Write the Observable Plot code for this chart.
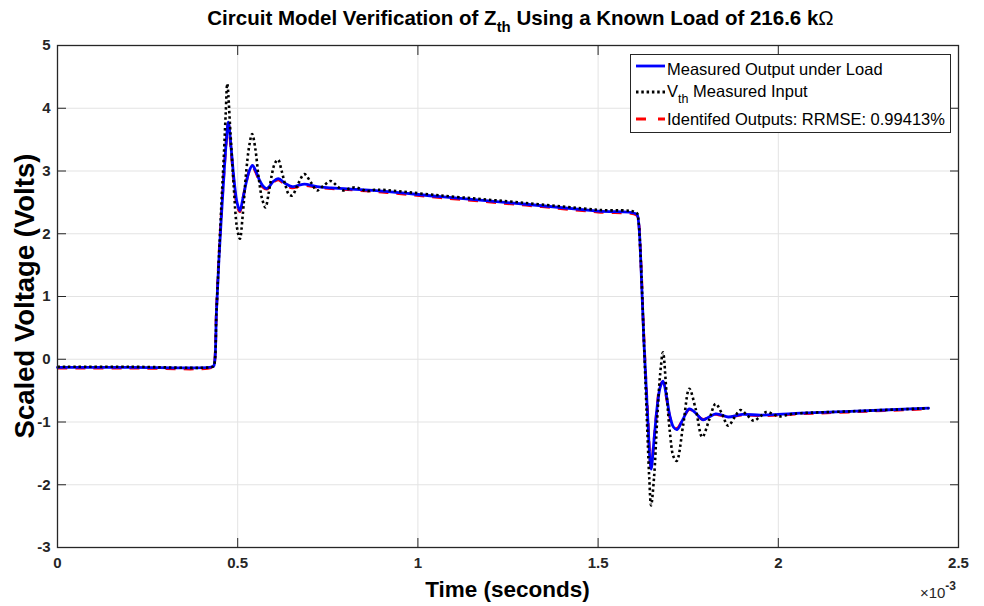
<!DOCTYPE html>
<html><head><meta charset="utf-8">
<script src="https://cdn.jsdelivr.net/npm/d3@7"></script>
<script src="https://cdn.jsdelivr.net/npm/@observablehq/plot@0.6"></script>
<style>body{margin:0;background:#fff;} svg{display:block;}</style>
</head><body><div id="chart"></div>
<script>
// Time in units of 1e-3 s (axis shows ×10^-3)
const tOut = [0,0.2,0.43,0.434,0.441,0.448,0.455,0.462,0.468,0.474,0.482,0.490,0.498,0.506,0.514,0.523,0.532,0.541,0.550,0.560,0.570,0.580,0.589,0.598,0.613,0.632,0.651,0.668,0.685,0.72,0.76,0.9,1.063,1.3,1.5,1.607,1.612,1.618,1.627,1.637,1.647,1.655,1.664,1.672,1.680,1.690,1.699,1.709,1.719,1.736,1.753,1.771,1.791,1.808,1.826,1.843,1.861,1.9,1.95,2.0,2.062,2.2,2.417];
const vOut = [-0.13,-0.13,-0.12,-0.10,0.75,1.6,2.3,2.95,3.45,3.78,3.35,2.85,2.5,2.37,2.55,2.80,3.0,3.09,3.0,2.86,2.76,2.72,2.76,2.83,2.88,2.80,2.75,2.77,2.79,2.75,2.73,2.68,2.59,2.47,2.36,2.31,2.2,1.63,0.30,-0.85,-1.75,-1.30,-0.75,-0.45,-0.35,-0.60,-0.90,-1.08,-1.12,-0.95,-0.79,-0.86,-0.965,-0.92,-0.87,-0.89,-0.92,-0.88,-0.89,-0.88,-0.86,-0.83,-0.78];

const tVth = [0,0.2,0.43,0.434,0.441,0.448,0.455,0.462,0.467,0.471,0.480,0.489,0.498,0.506,0.514,0.523,0.532,0.540,0.549,0.558,0.568,0.577,0.586,0.595,0.603,0.612,0.622,0.632,0.642,0.651,0.668,0.685,0.703,0.720,0.739,0.758,0.776,0.794,0.810,0.827,0.843,0.859,0.880,0.901,1.063,1.3,1.5,1.607,1.612,1.618,1.627,1.637,1.642,1.647,1.655,1.664,1.672,1.680,1.690,1.699,1.709,1.718,1.736,1.753,1.771,1.789,1.808,1.826,1.843,1.861,1.878,1.895,1.913,1.932,1.95,1.967,1.984,2.001,2.03,2.062,2.2,2.417];
const vVth = [-0.12,-0.12,-0.12,-0.10,0.75,1.63,2.5,3.3,3.95,4.39,3.6,2.75,2.1,1.92,2.3,2.95,3.4,3.59,3.35,2.9,2.55,2.42,2.65,2.95,3.12,3.18,3.0,2.78,2.63,2.61,2.8,2.95,2.82,2.69,2.77,2.84,2.76,2.69,2.72,2.74,2.71,2.68,2.70,2.70,2.61,2.49,2.38,2.33,2.2,1.63,0.30,-1.2,-1.9,-2.33,-1.9,-0.95,-0.25,0.11,-0.55,-1.15,-1.55,-1.62,-1.05,-0.47,-0.80,-1.24,-0.97,-0.71,-0.86,-1.06,-0.93,-0.81,-0.89,-0.98,-0.91,-0.84,-0.87,-0.91,-0.88,-0.86,-0.83,-0.78];

const tId = tOut;
const vId = [-0.14,-0.14,-0.13,-0.10,0.78,1.65,2.35,2.98,3.45,3.76,3.3,2.8,2.45,2.35,2.55,2.80,3.0,3.07,2.98,2.84,2.74,2.71,2.75,2.82,2.86,2.78,2.73,2.75,2.77,2.74,2.72,2.665,2.575,2.455,2.345,2.295,2.2,1.65,0.35,-0.8,-1.72,-1.3,-0.75,-0.42,-0.36,-0.62,-0.92,-1.08,-1.10,-0.95,-0.80,-0.87,-0.96,-0.92,-0.88,-0.90,-0.92,-0.89,-0.90,-0.89,-0.87,-0.84,-0.79];

const xTicks = [0, 0.5, 1, 1.5, 2, 2.5];
const yTicks = [-3, -2, -1, 0, 1, 2, 3, 4, 5];
const seriesNames = ["Measured Output under Load", "Measured Input", "Identifed Outputs: RRMSE: 0.99413%"];
const seriesColors = ["#0000ff", "#000000", "#ff0000"];

const rows = (t, v) => t.map((x, i) => ({t: x, v: v[i]}));
const outRows = rows(tOut, vOut), vthRows = rows(tVth, vVth), idRows = rows(tId, vId);

const W = 984, H = 606, mL = 57, mR = 26, mT = 45, mB = 59;
const FONT = "'Liberation Sans', Arial, Helvetica, sans-serif";
const AX = "#262626";

const chart = Plot.plot({
  width: W, height: H, marginLeft: mL, marginRight: mR, marginTop: mT, marginBottom: mB,
  style: {fontFamily: FONT, background: "#fff", overflow: "visible"},
  x: {domain: [0, 2.5]},
  y: {domain: [-3, 5]},
  marks: [
    Plot.gridX(xTicks, {stroke: "#e3e3e3", strokeOpacity: 1, strokeWidth: 1}),
    Plot.gridY(yTicks, {stroke: "#e3e3e3", strokeOpacity: 1, strokeWidth: 1}),
    Plot.line(idRows, {x: "t", y: "v", stroke: seriesColors[2], strokeWidth: 2.8, strokeDasharray: "10,8", strokeLinecap: "butt", curve: "catmull-rom"}),
    Plot.line(outRows, {x: "t", y: "v", stroke: seriesColors[0], strokeWidth: 2.8, curve: "catmull-rom"}),
    Plot.line(vthRows, {x: "t", y: "v", stroke: seriesColors[1], strokeWidth: 2.6, strokeDasharray: "2.5,2.8", strokeLinecap: "butt", curve: "catmull-rom"}),
    Plot.axisX(xTicks, {anchor: "bottom", tickSize: 0, tickPadding: 10, tickFormat: d => String(d), fontSize: 15, fontWeight: "bold", fill: AX, label: null}),
    Plot.axisX(xTicks, {anchor: "bottom", tickSize: -9, fill: "none", stroke: AX, label: null}),
    Plot.axisX(xTicks, {anchor: "top", tickSize: -9, fill: "none", stroke: AX, label: null}),
    Plot.axisY(yTicks, {anchor: "left", tickSize: 0, tickPadding: 7, tickFormat: d => String(d), fontSize: 15, fontWeight: "bold", fill: AX, label: null}),
    Plot.axisY(yTicks, {anchor: "left", tickSize: -9, fill: "none", stroke: AX, label: null}),
    Plot.axisY(yTicks, {anchor: "right", tickSize: -9, fill: "none", stroke: AX, label: null}),
    Plot.frame({stroke: AX, strokeWidth: 1.3})
  ]
});

const svg = d3.select(chart);
const cx = (mL + W - mR) / 2;

// Title
const title = svg.append("text").attr("x", cx + 13).attr("y", 25).attr("text-anchor", "middle")
  .attr("font-family", FONT).attr("font-size", 20.5).attr("font-weight", "bold").attr("fill", "#000");
title.append("tspan").text("Circuit Model Verification of Z");
title.append("tspan").attr("dy", 7).attr("font-size", 15).text("th");
title.append("tspan").attr("dy", -7).text(" Using a Known Load of 216.6 k");
title.append("tspan").attr("font-weight", "normal").text("Ω");

// Axis labels
svg.append("text").attr("x", cx).attr("y", 597).attr("text-anchor", "middle")
  .attr("font-family", FONT).attr("font-size", 22.5).attr("font-weight", "bold").attr("fill", "#000")
  .text("Time (seconds)");
svg.append("text").attr("transform", `translate(34,${(mT + H - mB) / 2}) rotate(-90)`).attr("text-anchor", "middle")
  .attr("font-family", FONT).attr("font-size", 27.5).attr("font-weight", "bold").attr("fill", "#000")
  .text("Scaled Voltage (Volts)");

// Exponent
const ex = svg.append("text").attr("x", W - mR - 2).attr("y", 598).attr("text-anchor", "end")
  .attr("font-family", FONT).attr("font-size", 15).attr("fill", AX);
ex.append("tspan").text("×10");
ex.append("tspan").attr("dy", -8).attr("font-size", 12).attr("font-weight", "bold").text("-3");

// Legend
const lg = svg.append("g").attr("font-family", FONT).attr("font-size", 16.5).attr("text-anchor", "start");
lg.append("rect").attr("x", 630.5).attr("y", 54.5).attr("width", 320).attr("height", 78)
  .attr("fill", "#fff").attr("stroke", AX).attr("stroke-width", 1);
const rowsY = [66, 92, 119];
const dashes = [null, "2.5,2.8", "10,12"];
rowsY.forEach((y, i) => {
  lg.append("line").attr("x1", 636).attr("x2", 665).attr("y1", y).attr("y2", y)
    .attr("stroke", seriesColors[i]).attr("stroke-width", 2.8)
    .attr("stroke-dasharray", dashes[i]);
});
lg.append("text").attr("x", 667).attr("y", 75).attr("fill", "#000").text(seriesNames[0]);
const t2 = lg.append("text").attr("x", 667).attr("y", 97).attr("fill", "#000");
t2.append("tspan").text("V");
t2.append("tspan").attr("dy", 6).attr("font-size", 12.5).text("th");
t2.append("tspan").attr("dy", -6).text(" " + seriesNames[1]);
lg.append("text").attr("x", 667).attr("y", 125).attr("fill", "#000").text(seriesNames[2]);

document.getElementById("chart").appendChild(chart);
</script>
</body></html>
